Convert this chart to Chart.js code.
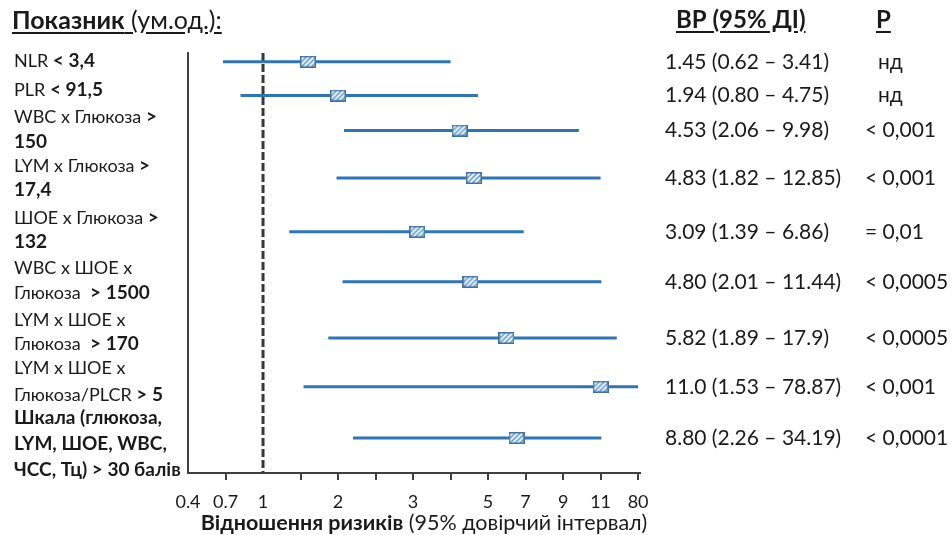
<!DOCTYPE html>
<html>
<head>
<meta charset="utf-8">
<script src="https://cdn.jsdelivr.net/npm/chart.js@4"></script>
<style>
  body { margin: 0; background: #fff; }
  #wrap { position: relative; width: 952px; height: 535px; font-family: Lato, sans-serif; color: #1a1a1a; }
  #chart { position: absolute; left: 0; top: 0; }
  .hdr { position: absolute; top: 5px; font-size: 24px; line-height: 28px; text-decoration: underline; text-underline-offset: 3px; white-space: nowrap; }
  #xtitle { position: absolute; top: 509px; left: 0; width: 848px; text-align: center; font-size: 21.5px; line-height: 26px; white-space: nowrap; }
</style>
</head>
<body>
<div id="wrap">
  <canvas id="chart" width="952" height="535"></canvas>
  <div class="hdr" style="left:12px; font-size:25px"><b>Показник</b> (ум.од.):</div>
  <div class="hdr" style="left:676px"><b>ВР (95% ДІ)</b></div>
  <div class="hdr" style="left:876px"><b>Р</b></div>
  <div id="xtitle"><b>Відношення ризиків</b> (95% довірчий інтервал)</div>
</div>
<script>
'use strict';

// row labels: each line is [normal part, bold part]
var rowLabels = [
   [['NLR ', '< 3,4']],
   [['PLR ', '< 91,5']],
   [['WBC x Глюкоза ', '>'], ['', '150']],
   [['LYM x Глюкоза ', '>'], ['', '17,4']],
   [['ШОЕ x Глюкоза ', '>'], ['', '132']],
   [['WBC x ШОЕ x', ''], ['Глюкоза  ', '> 1500']],
   [['LYM x ШОЕ x', ''], ['Глюкоза  ', '> 170']],
   [['LYM x ШОЕ x', ''], ['Глюкоза/PLCR ', '> 5']],
   [['', 'Шкала (глюкоза,'], ['', 'LYM, ШОЕ, WBC,'], ['', 'ЧСС, Тц) > 30 балів']]
];
var hrText = ['1.45 (0.62 – 3.41)', '1.94 (0.80 – 4.75)', '4.53 (2.06 – 9.98)', '4.83 (1.82 – 12.85)',
   '3.09 (1.39 – 6.86)', '4.80 (2.01 – 11.44)', '5.82 (1.89 – 17.9)', '11.0 (1.53 – 78.87)', '8.80 (2.26 – 34.19)'];
var pText = ['нд', 'нд', '< 0,001', '< 0,001', '= 0,01', '< 0,0005', '< 0,0005', '< 0,001', '< 0,0001'];

// values as drawn on the (non-uniform) axis
var hrPlot = [1.6, 2.0, 4.24, 4.62, 3.11, 4.53, 5.98, 11.0, 6.52];
var ciLow = [0.68, 0.82, 2.08, 1.98, 1.35, 2.06, 1.87, 1.54, 2.2];
var ciHigh = [4.0, 4.73, 9.84, 11.0, 6.9, 12.4, 40.7, 80, 12.4];
var rowPos = [0.35, 1.7, 3.1, 5.0, 7.15, 9.15, 11.4, 13.35, 15.4];

// axis break points, evenly spaced on the page
var axisValues = [0.4, 0.7, 1, 1.5, 2, 2.5, 3, 4, 5, 7, 9, 11, 80];
var axisShown = [true, true, true, false, true, false, true, false, true, true, true, true, true];
var refValue = 1;
var rowMax = 16.8;

// where the label text blocks sit (first line y, line gap)
var labelFirstY = [61, 90, 117, 166, 218, 268, 320, 368, 418];
var labelGap = [25, 25, 25, 24, 24, 25, 24, 27, 26];

function toSlot(v) {
   for (var i = 0; i < axisValues.length - 1; i++) {
      var a = axisValues[i], b = axisValues[i + 1];
      if (v <= b) return i + (v - a) / (b - a);
   }
   return axisValues.length - 1;
}

function makeMarker() {
   var c = document.createElement('canvas');
   c.width = 16; c.height = 12;
   var g = c.getContext('2d');
   g.fillStyle = '#6ea6dc';
   g.fillRect(0, 0, 16, 12);
   g.save();
   g.beginPath();
   g.rect(1, 1, 14, 10);
   g.clip();
   g.strokeStyle = '#ffffff';
   g.lineWidth = 1.6;
   for (var k = -12; k < 30; k += 5) {
      g.beginPath();
      g.moveTo(k, 12);
      g.lineTo(k + 12, 0);
      g.stroke();
   }
   g.restore();
   g.strokeStyle = '#41719c';
   g.lineWidth = 1.5;
   g.strokeRect(0.75, 0.75, 14.5, 10.5);
   return c;
}

var datasets = [];
datasets.push({
   data: hrPlot.map(function(v, i) { return { x: toSlot(v), y: rowPos[i] }; }),
   pointStyle: makeMarker(),
   showLine: false,
   order: 0
});
ciLow.forEach(function(lo, i) {
   datasets.push({
      data: [{ x: toSlot(lo), y: rowPos[i] }, { x: toSlot(ciHigh[i]), y: rowPos[i] }],
      showLine: true,
      borderColor: '#2e75b6',
      borderWidth: 3,
      pointRadius: 0,
      order: 1
   });
});
datasets.push({
   data: [{ x: toSlot(refValue), y: 0 }, { x: toSlot(refValue), y: rowMax }],
   showLine: true,
   borderColor: '#383838',
   borderWidth: 3,
   borderDash: [8, 3],
   pointRadius: 0,
   order: 2
});

var textPlugin = {
   id: 'rowText',
   afterDraw: function(chart) {
      var ctx = chart.ctx;
      var y = chart.scales.y;
      ctx.save();
      ctx.fillStyle = '#1a1a1a';
      ctx.textBaseline = 'middle';
      rowPos.forEach(function(r, i) {
         var yc = y.getPixelForValue(r);
         rowLabels[i].forEach(function(line, j) {
            var x = 14;
            var ly = labelFirstY[i] + j * labelGap[i];
            ctx.font = '18px Lato';
            ctx.fillText(line[0], x, ly);
            x += ctx.measureText(line[0]).width;
            ctx.font = 'bold 19px Lato';
            ctx.fillText(line[1], x, ly);
         });
         ctx.font = '21px Lato';
         ctx.fillText(hrText[i], 665, yc);
         ctx.fillText(pText[i], pText[i].charAt(0) === 'н' ? 878 : 865, yc);
      });
      ctx.restore();
   }
};

new Chart(document.getElementById('chart'), {
   type: 'scatter',
   data: { datasets: datasets },
   plugins: [textPlugin],
   options: {
      responsive: false,
      animation: false,
      layout: { padding: { left: 188, right: 312, top: 53, bottom: 0 } },
      plugins: { legend: { display: false }, tooltip: { enabled: false } },
      scales: {
         x: {
            type: 'linear',
            min: 0,
            max: 12.05,
            afterBuildTicks: function(scale) {
               scale.ticks = axisValues.map(function(v, i) { return { value: i }; });
            },
            afterFit: function(scale) { scale.height = 62; },
            border: { display: true, color: '#404040', width: 2 },
            grid: {
               drawOnChartArea: false,
               drawTicks: true,
               tickLength: 7,
               lineWidth: 2,
               tickColor: function(c) { return (c.index === 0 || c.index === 2) ? 'rgba(0,0,0,0)' : '#404040'; },
               color: '#404040'
            },
            ticks: {
               padding: 11,
               autoSkip: false,
               maxRotation: 0,
               color: '#1a1a1a',
               font: { family: 'Lato', size: 18 },
               callback: function(v) { return axisShown[v] ? String(axisValues[v]) : ''; }
            }
         },
         y: {
            type: 'linear',
            reverse: true,
            min: 0,
            max: rowMax,
            afterFit: function(scale) { scale.width = 0; },
            border: { display: true, color: '#404040', width: 2 },
            grid: { display: false },
            ticks: { display: false }
         }
      }
   }
});
</script>
</body>
</html>
